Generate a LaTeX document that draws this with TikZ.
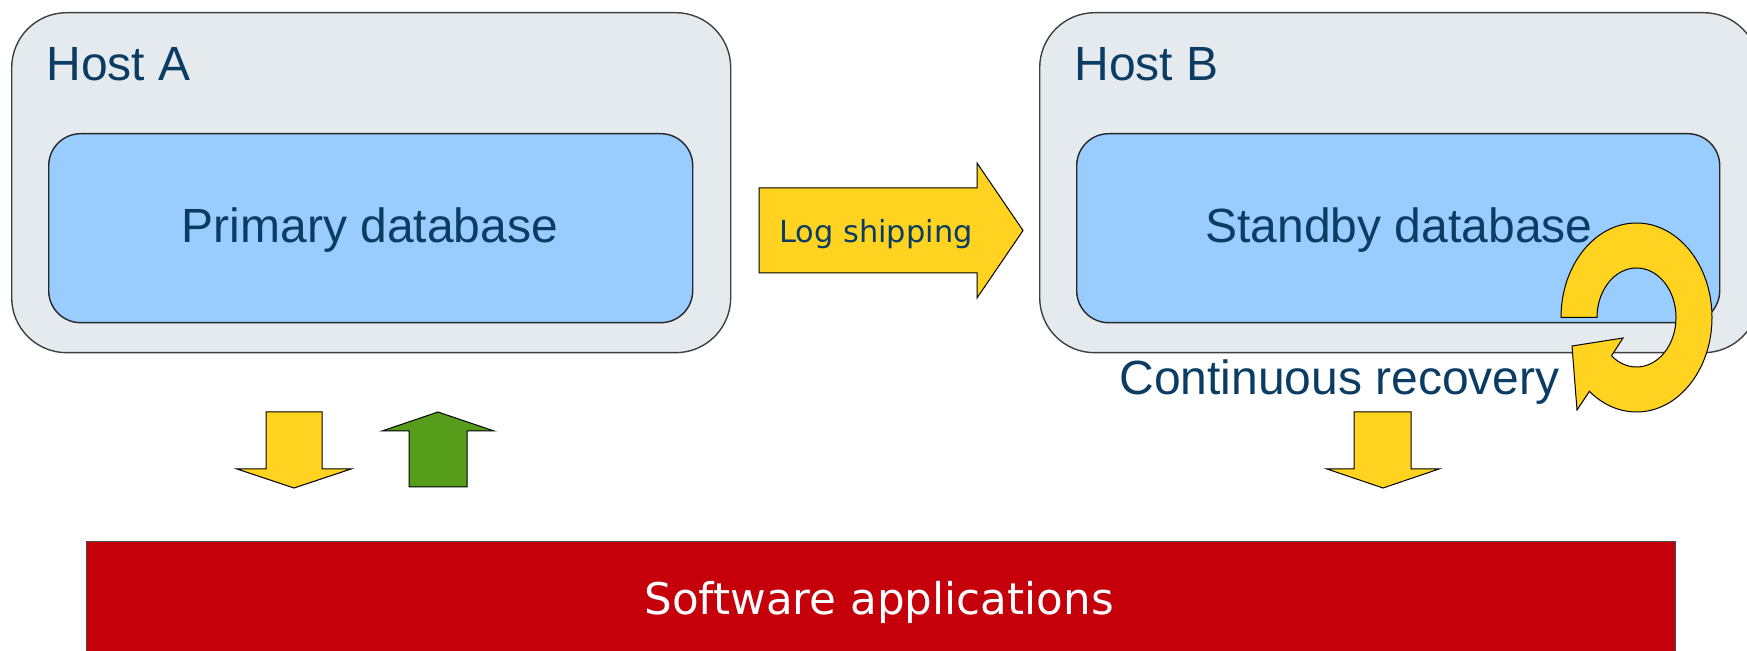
\documentclass[tikz,border=0pt]{standalone}
\usepackage{fontspec}
\setmainfont{Liberation Sans}
\newfontfamily\bannerfont{DejaVu Sans}
\definecolor{hostgray}{HTML}{E5EAEF}
\definecolor{dbblue}{HTML}{99CCFF}
\definecolor{ink}{HTML}{0B3D64}
\definecolor{arrowyellow}{HTML}{FFD320}
\definecolor{arrowgreen}{HTML}{579D1C}
\definecolor{appred}{HTML}{C5000B}
\begin{document}
\begin{tikzpicture}[x=0.5pt,y=-0.5pt,
  hostbox/.style={draw=black!75, line width=0.7pt, fill=hostgray,
    rounded corners=27.5pt, inner sep=0pt, anchor=north west},
  dbbox/.style={draw=black!85, line width=0.7pt, fill=dbblue,
    rounded corners=16pt, inner sep=0pt, anchor=north west},
  appbox/.style={draw=black!70, line width=0.7pt, fill=appred,
    inner sep=0pt, anchor=north west},
  bigtext/.style={text=ink, font=\fontsize{24}{28}\selectfont, inner sep=0pt},
  flowarrow/.style={draw=black, line width=0.5pt, fill=arrowyellow, line join=miter},
  backarrow/.style={draw=black, line width=0.5pt, fill=arrowgreen, line join=miter},
]
\useasboundingbox (0,0) rectangle (1747,651);

% hosts
\node[hostbox, minimum width=359.5pt, minimum height=170pt] (hostA) at (11,12) {};
\node[hostbox, minimum width=359.5pt, minimum height=170pt] (hostB) at (1039,12) {};
\node[bigtext, anchor=base west] (hostAlabel) at (46,81) {Host A};
\node[bigtext, anchor=base west] (hostBlabel) at (1074,81) {Host B};

% databases
\node[dbbox, minimum width=322pt, minimum height=94.5pt] (primary) at (48,133) {};
\node[dbbox, minimum width=321.5pt, minimum height=94.5pt] (standby) at (1076,133) {};
\node[bigtext, anchor=base] (primarylabel) at (370,243) {Primary database};
\node[bigtext, anchor=base] (standbylabel) at (1399,243) {Standby database};

% log shipping arrow
\coordinate (shipA) at (759,188);
\draw[flowarrow] (shipA) -- (977,188) -- (977,163) -- (1023,230.5) -- (977,298)
  -- (977,273) -- (759,273) -- cycle;
\node[text=ink, font=\bannerfont\fontsize{15.2}{18}\selectfont, inner sep=0pt,
  anchor=base] (shiplabel) at (876,243) {Log shipping};

% continuous recovery loop
\coordinate (ringc) at (1636.5,317.5);
\draw[flowarrow] (1561,317.5)
  arc[start angle=180, end angle=488.6, x radius=75.5, y radius=94.5]
  -- (1577,410) -- (1572,346) -- (1623,338) -- (1611.5,355.8)
  arc[start angle=489.3, end angle=180, x radius=39.5, y radius=49.5]
  -- cycle;
\node[bigtext, anchor=base west] (recoverylabel) at (1119,395) {Continuous recovery};

% traffic between hosts and applications
\coordinate (downA) at (266,412);
\draw[flowarrow] (downA) -- (322,412) -- (322,469) -- (351,469) -- (294,488)
  -- (237,469) -- (266,469) -- cycle;
\coordinate (upA) at (409,487);
\draw[backarrow] (upA) -- (467,487) -- (467,431) -- (494,431) -- (438,412)
  -- (382,431) -- (409,431) -- cycle;
\coordinate (downB) at (1354,412);
\draw[flowarrow] (downB) -- (1411,412) -- (1411,469) -- (1439,469) -- (1383,488)
  -- (1327,469) -- (1354,469) -- cycle;

% applications
\node[appbox, minimum width=794.5pt, minimum height=60pt] (apps) at (86,541) {};
\node[text=white, font=\bannerfont\fontsize{21.8}{26}\selectfont, inner sep=0pt,
  anchor=base] (appslabel) at (879,615) {Software applications};
\end{tikzpicture}
\end{document}
